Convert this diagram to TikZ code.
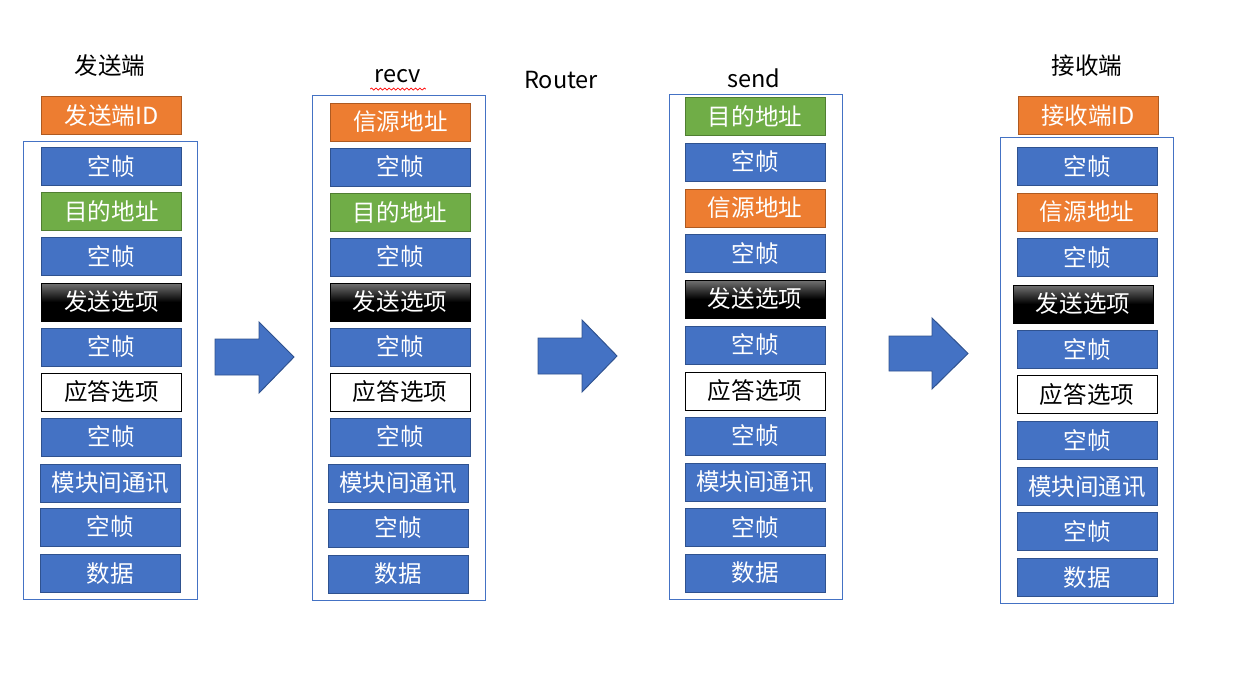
\documentclass[tikz,border=0pt]{standalone}
\usepackage{fontspec}
\setmainfont{Noto Sans CJK SC}
\usepackage{xcolor}
\usetikzlibrary{decorations.pathmorphing}

\definecolor{fblue}{HTML}{4472C4}
\definecolor{fblueline}{HTML}{2F528F}
\definecolor{forange}{HTML}{ED7D31}
\definecolor{forangeline}{HTML}{AE5A21}
\definecolor{fgreen}{HTML}{70AD47}
\definecolor{fgreenline}{HTML}{507E32}

\begin{document}
\begin{tikzpicture}[
            x = 0.02cm, y = -0.02cm, % pixel units, y going down
            font = \fontsize{13.4}{16}\selectfont,
            line width = 0.55pt
        ]

        \tikzstyle{field}=[
            minimum width = 2.8cm,
            minimum height = 0.76cm,
            inner sep = 0pt,
            text = white
        ]
        \tikzstyle{blankbox}=[field, fill = fblue, draw = fblueline]
        \tikzstyle{srcbox}=[field, fill = forange, draw = forangeline]
        \tikzstyle{dstbox}=[field, fill = fgreen, draw = fgreenline]
        \tikzstyle{sendbox}=[field, draw = black, top color = black!55, bottom color = black, middle color = black]
        \tikzstyle{ackbox}=[field, fill = white, draw = black, text = black]
        \tikzstyle{frame}=[draw = fblue, line width = 0.5pt]
        \tikzstyle{bigarrow}=[fill = fblue, draw = fblueline]

\useasboundingbox (0,0) rectangle (1250,682);

% sender
\node[] (T1) at (110,66) {发送端};
\node[srcbox] (ID1) at (111.5,115.5) {发送端ID};
\draw[frame] (23,141) rectangle (197,599);
\node[blankbox] (A1) at (111.5,166.5) {空帧};
\node[dstbox] (A2) at (111.5,211.5) {目的地址};
\node[blankbox] (A3) at (111.5,256.5) {空帧};
\node[sendbox] (A4) at (111.5,302) {发送选项};
\node[blankbox] (A5) at (111.5,347) {空帧};
\node[ackbox] (A6) at (111.5,392) {应答选项};
\node[blankbox] (A7) at (111.5,437) {空帧};
\node[blankbox] (A8) at (110.5,483) {模块间通讯};
\node[blankbox] (A9) at (110.5,527) {空帧};
\node[blankbox] (A10) at (110.5,573.5) {数据};

% router, recv side
\node[] (T2) at (398,76) {recv};
\draw[red, line width = 0.4pt, decorate, decoration = {snake, amplitude = 0.6pt, segment length = 2.5pt}]
    ([xshift=1pt]T2.south west) -- ([xshift=-1pt]T2.south east);
\node[] (R) at (561,80) {Router};
\draw[frame] (312,95) rectangle (485,600);
\node[srcbox] (B1) at (400.5,122) {信源地址};
\node[blankbox] (B2) at (400,167) {空帧};
\node[dstbox] (B3) at (400,212) {目的地址};
\node[blankbox] (B4) at (400,257) {空帧};
\node[sendbox] (B5) at (400,302) {发送选项};
\node[blankbox] (B6) at (400,347) {空帧};
\node[ackbox] (B7) at (400,392) {应答选项};
\node[blankbox] (B8) at (400,437) {空帧};
\node[blankbox] (B9) at (398,483) {模块间通讯};
\node[blankbox] (B10) at (398,528) {空帧};
\node[blankbox] (B11) at (398,574) {数据};

% router, send side
\node[] (T3) at (754,78) {send};
\draw[frame] (669,94) rectangle (842,599);
\node[dstbox] (C1) at (755,116.5) {目的地址};
\node[blankbox] (C2) at (755,162) {空帧};
\node[srcbox] (C3) at (755,208) {信源地址};
\node[blankbox] (C4) at (755,253.5) {空帧};
\node[sendbox] (C5) at (755,299) {发送选项};
\node[blankbox] (C6) at (755,345) {空帧};
\node[ackbox] (C7) at (755,391) {应答选项};
\node[blankbox] (C8) at (755,436) {空帧};
\node[blankbox] (C9) at (755,482) {模块间通讯};
\node[blankbox] (C10) at (755,527.5) {空帧};
\node[blankbox] (C11) at (755,573) {数据};

% receiver
\node[] (T4) at (1087,66) {接收端};
\node[srcbox] (ID4) at (1088,115.5) {接收端ID};
\draw[frame] (1000,137.5) rectangle (1173,603);
\node[blankbox] (D1) at (1087,166.5) {空帧};
\node[srcbox] (D2) at (1087,212) {信源地址};
\node[blankbox] (D3) at (1087,257.5) {空帧};
\node[sendbox] (D4) at (1083,304) {发送选项};
\node[blankbox] (D5) at (1087,349.5) {空帧};
\node[ackbox] (D6) at (1087,394.5) {应答选项};
\node[blankbox] (D7) at (1087,440.5) {空帧};
\node[blankbox] (D8) at (1087,486.5) {模块间通讯};
\node[blankbox] (D9) at (1087,531.5) {空帧};
\node[blankbox] (D10) at (1087,577.5) {数据};

% block arrows
\draw[bigarrow] (215,339) -- (259,339) -- (259,322) -- (294,357) -- (259,393) -- (259,375) -- (215,375) -- cycle;
\draw[bigarrow] (538,338) -- (582,338) -- (582,320) -- (617,356) -- (582,392) -- (582,374) -- (538,374) -- cycle;
\draw[bigarrow] (889,336) -- (932,336) -- (932,318) -- (968,353.5) -- (932,389) -- (932,371) -- (889,371) -- cycle;
\end{tikzpicture}
\end{document}
